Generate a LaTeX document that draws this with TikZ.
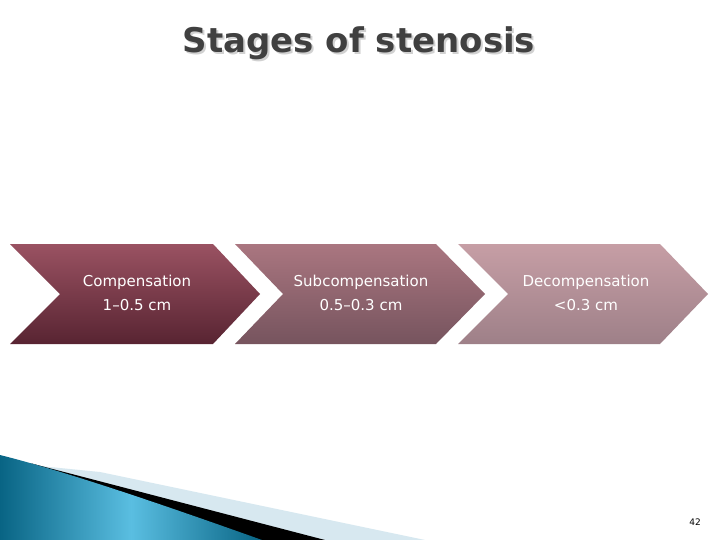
\documentclass[tikz,border=0pt]{standalone}
\usepackage{fontspec}
\setmainfont{DejaVu Sans}
\newfontfamily\titlefont{DejaVu Sans}
\usetikzlibrary{shadings}
\definecolor{titlegray}{RGB}{64,64,64}
\definecolor{cA top}{RGB}{154,82,98}
\definecolor{cA bot}{RGB}{88,36,50}
\definecolor{cB top}{RGB}{170,118,128}
\definecolor{cB bot}{RGB}{118,84,94}
\definecolor{cC top}{RGB}{198,158,165}
\definecolor{cC bot}{RGB}{158,128,136}
\definecolor{swdark}{RGB}{8,100,132}
\definecolor{swlight}{RGB}{90,190,225}
\definecolor{swpale}{RGB}{215,232,240}
\tikzset{
  lbl/.style={text=white, align=center, font=\fontsize{15}{24}\selectfont},
  ttl/.style={font=\titlefont\bfseries\fontsize{34}{40}\selectfont},
}
\begin{document}
\begin{tikzpicture}[x=1pt,y=-1pt]
\useasboundingbox (0,0) rectangle (720,540);
\fill[white] (0,0) rectangle (720,540);
% title
\node[ttl, text=black!18] at (361,45) {Stages of stenosis};
\node[ttl, text=titlegray] (title) at (359,43) {Stages of stenosis};
% chevrons
\shade[top color=cA top, bottom color=cA bot] (10,244) -- (213,244) -- (260,294) -- (213,344) -- (10,344) -- (60,294) -- cycle;
\shade[top color=cB top, bottom color=cB bot] (235,244) -- (436,244) -- (485,294) -- (436,344) -- (235,344) -- (283,294) -- cycle;
\shade[top color=cC top, bottom color=cC bot] (458,244) -- (660,244) -- (708,294) -- (660,344) -- (458,344) -- (508,294) -- cycle;
\node[lbl] (c1) at (137,293) {Compensation\\1–0.5 cm};
\node[lbl] (c2) at (361,293) {Subcompensation\\0.5–0.3 cm};
\node[lbl] (c3) at (586,293) {Decompensation\\<0.3 cm};
% bottom-left swoosh
\fill[swpale] (40,466) -- (100,472) -- (425,540) -- (300,540) -- cycle;
\fill[black] (30,463) -- (45,467) -- (325,540) -- (255,540) -- cycle;
\shade[left color=swdark, right color=swdark, middle color=swlight] (0,455) .. controls (60,470) and (150,500) .. (262,540) -- (0,540) -- cycle;
% page number
\node[font=\fontsize{9}{11}\selectfont] (pg) at (695,522) {42};
\end{tikzpicture}
\end{document}
